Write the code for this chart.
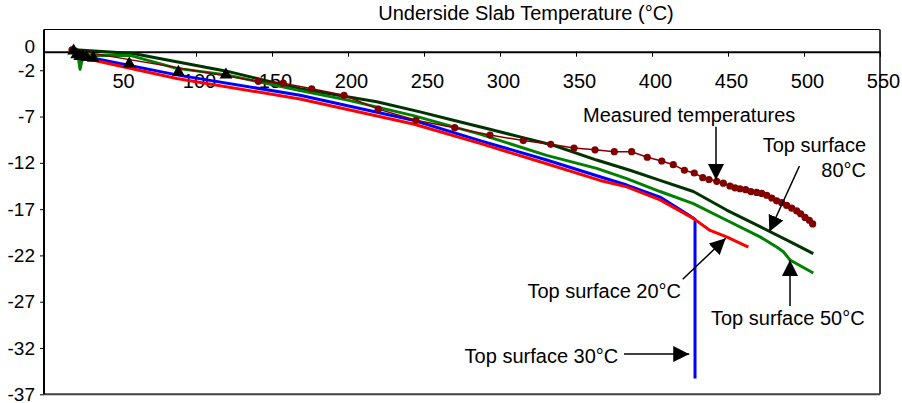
<!DOCTYPE html>
<html>
<head>
<meta charset="utf-8">
<script src="https://cdn.jsdelivr.net/npm/d3@7"></script>
<style>
  body { margin: 0; background: #fff; }
  svg text { font-family: "Liberation Sans", Arial, sans-serif; }
</style>
</head>
<body>
<svg id="slabPlot"></svg>
<script>
// x: underside slab temperature read position, y: temperature (°C)
const measured = [
  [18.4, 0.2], [141, -3.2], [157.4, -3.4], [176.1, -4.0], [197.4, -4.7],
  [219.9, -6.2], [244.7, -7.4], [270.2, -8.2], [293.4, -9.0], [315.3, -9.6],
  [333.4, -10.0], [348.7, -10.4], [362.5, -10.6], [375.2, -10.8], [386.6, -10.8],
  [396.9, -11.4], [406.4, -11.8], [414.0, -12.2], [421.3, -12.8], [427.8, -13.1],
  [433.4, -13.6], [437.5, -13.8], [442.6, -14.0], [446.9, -14.2], [451.3, -14.5],
  [454.6, -14.7], [457.9, -14.8], [461.6, -14.9], [465.1, -15.1], [468.9, -15.2],
  [472.2, -15.3], [475.5, -15.5], [478.8, -15.8], [482.0, -16.1], [485.3, -16.3],
  [488.6, -16.6], [491.9, -16.9], [495.2, -17.2], [497.8, -17.5], [500.7, -17.9],
  [503.5, -18.2], [505.7, -18.6],
];

const top80 = [
  [20.4, 0.2], [58.6, -0.2], [120.2, -2.1], [168.4, -4.0], [218.9, -5.4],
  [247.4, -6.5], [269.3, -7.4], [291.3, -8.3], [313.2, -9.2], [335.1, -10.1],
  [363.6, -11.7], [385.5, -12.8], [405.3, -13.9], [427.2, -15.1], [449.1, -17.1],
  [471.1, -18.9], [493.0, -20.7], [506.1, -21.8],
];

const top50 = [
  [20.4, 0.2], [22.4, -0.4], [23.7, -1.9], [25.7, -0.4], [56.6, -0.4],
  [87.3, -1.8], [120.2, -2.5], [168.4, -4.2], [199.1, -5.2], [243.0, -6.9],
  [286.8, -8.9], [330.7, -11.2], [363.6, -12.6], [383.4, -13.7], [405.3, -15.1],
  [427.2, -16.4], [449.1, -18.2], [471.1, -20.0], [482.0, -21.1], [486.4, -21.6],
  [490.8, -22.5], [506.1, -23.9],
];

const top30 = [
  [20.4, 0.1], [23.7, -0.4], [87.3, -2.5], [168.4, -4.7], [243.0, -7.4],
  [286.8, -9.6], [330.7, -11.7], [365.8, -13.5], [383.4, -14.4], [405.3, -15.7],
  [422.8, -17.5], [428.3, -18.1], [428.3, -35.3],
];

const top20 = [
  [20.4, -0.1], [23.7, -0.6], [87.3, -2.9], [168.4, -5.1], [243.0, -7.8],
  [286.8, -9.9], [330.7, -12.1], [365.8, -13.9], [383.4, -14.6], [405.3, -16.0],
  [427.2, -18.0], [438.2, -19.3], [449.1, -20.0], [463.4, -21.1],
];

// black triangle markers near the start
const triangles = [
  [19.5, 0.1], [21.5, -0.3], [23.5, -0.5], [25.5, -0.5], [28, -0.6],
  [32.4, -0.7], [56.1, -1.3], [88.4, -2.2], [119.7, -2.5],
];

const xTicks = [50, 100, 150, 200, 250, 300, 350, 400, 450, 500, 550];
const yTicks = [-37, -32, -27, -22, -17, -12, -7, -2];

const color = {
  measured: "#800000",
  top80: "#003300",
  top50: "#008000",
  top30: "#0000ff",
  top20: "#ff0000",
};

// annotations: text position / arrow from-to in data units
const labels = [
  { text: ["Measured temperatures"], x: 354.6, y: -7.56, anchor: "start" },
  { text: ["Top surface", "80°C"], x: 540.8, y: -10.8, anchor: "end" },
  { text: ["Top surface 20°C"], x: 419.1, y: -26.63, anchor: "end" },
  { text: ["Top surface 30°C"], x: 377.8, y: -33.65, anchor: "end" },
  { text: ["Top surface 50°C"], x: 438.8, y: -29.5, anchor: "start" },
];

const arrows = [
  { from: [442.1, -8.1], to: [442.1, -13.86] },
  { from: [497.0, -12.34], to: [477.2, -19.44] },
  { from: [420.2, -24.58], to: [448.5, -20.15] },
  { from: [381.6, -32.65], to: [424.5, -32.65] },
  { from: [490.8, -27.47], to: [490.8, -22.5] },
];

const size = { width: 902, height: 403 };
const margin = { top: 29.5, bottom: 8.7, left: 44, right: 22 };

const svg = d3
  .select("#slabPlot")
  .attr("width", size.width)
  .attr("height", size.height);

const x = d3
  .scaleLinear()
  .domain([0, 550])
  .range([margin.left, size.width - margin.right]);

const y = d3
  .scaleLinear()
  .domain([-37, 2.4])
  .range([size.height - margin.bottom, margin.top]);

// frame
svg
  .append("line")
  .attr("x1", x(0))
  .attr("x2", x(550))
  .attr("y1", margin.top)
  .attr("y2", margin.top)
  .attr("stroke", "#000")
  .attr("stroke-width", 1.2);

svg
  .append("line")
  .attr("x1", x(550))
  .attr("x2", x(550))
  .attr("y1", margin.top)
  .attr("y2", y(-37))
  .attr("stroke", "#404040")
  .attr("stroke-width", 2);

svg
  .append("line")
  .attr("x1", x(0))
  .attr("x2", x(550))
  .attr("y1", y(-37))
  .attr("y2", y(-37))
  .attr("stroke", "#404040")
  .attr("stroke-width", 2);

// y axis
const yAxis = svg
  .append("g")
  .attr("transform", `translate(${x(0)},0)`)
  .call(
    d3
      .axisLeft(y)
      .tickValues(yTicks)
      .tickFormat((d) => String(d))
      .tickSize(4)
      .tickPadding(5)
      .tickSizeOuter(0)
  );

yAxis.select(".domain").attr("stroke-width", 2).attr("d", `M0,${margin.top}V${y(-37)}`);
yAxis.selectAll(".tick line").attr("stroke-width", 1);
yAxis
  .selectAll("text")
  .style("font-size", "19px")
  .attr("fill", "#000");

yAxis
  .append("text")
  .attr("x", -9)
  .attr("y", y(0) - 5)
  .attr("dy", "0.32em")
  .attr("text-anchor", "end")
  .attr("fill", "#000")
  .style("font-size", "19px")
  .text("0");

// x axis at 0
const xAxis = svg
  .append("g")
  .attr("transform", `translate(0,${y(0)})`)
  .call(
    d3
      .axisBottom(x)
      .tickValues(xTicks)
      .tickFormat((d) => String(d))
      .tickSize(5)
      .tickPadding(17)
      .tickSizeOuter(0)
  );

xAxis.select(".domain").attr("stroke-width", 2);
xAxis
  .selectAll("text")
  .attr("dx", 3)
  .style("font-size", "20px")
  .attr("fill", "#000");

// title
svg
  .append("text")
  .attr("x", 526)
  .attr("y", 20)
  .attr("text-anchor", "middle")
  .style("font-size", "20px")
  .text("Underside Slab Temperature (°C)");

// series
const line = d3
  .line()
  .x((d) => x(d[0]))
  .y((d) => y(d[1]));

const series = [
  { key: "top80", data: top80, width: 3 },
  { key: "top50", data: top50, width: 3 },
  { key: "top30", data: top30, width: 3 },
  { key: "top20", data: top20, width: 3 },
];

series.forEach((s) => {
  svg
    .append("path")
    .datum(s.data)
    .attr("d", line)
    .attr("fill", "none")
    .attr("stroke", color[s.key])
    .attr("stroke-width", s.width)
    .attr("stroke-linejoin", "round");
});

svg
  .append("path")
  .datum(measured)
  .attr("d", line)
  .attr("fill", "none")
  .attr("stroke", color.measured)
  .attr("stroke-width", 1.5);

svg
  .append("g")
  .selectAll("circle")
  .data(measured)
  .join("circle")
  .attr("cx", (d) => x(d[0]))
  .attr("cy", (d) => y(d[1]))
  .attr("r", 3.6)
  .attr("fill", color.measured);

svg
  .append("g")
  .selectAll("path")
  .data(triangles)
  .join("path")
  .attr("d", d3.symbol(d3.symbolTriangle, 70))
  .attr("transform", (d) => `translate(${x(d[0])},${y(d[1])})`)
  .attr("fill", "#000");

// annotations
svg
  .append("defs")
  .append("marker")
  .attr("id", "arrowHead")
  .attr("viewBox", "0 0 16 16")
  .attr("refX", 16)
  .attr("refY", 8)
  .attr("markerWidth", 16)
  .attr("markerHeight", 16)
  .attr("markerUnits", "userSpaceOnUse")
  .attr("orient", "auto")
  .append("path")
  .attr("d", "M0,0L16,8L0,16Z")
  .attr("fill", "#000");

arrows.forEach((a) => {
  svg
    .append("line")
    .attr("x1", x(a.from[0]))
    .attr("y1", y(a.from[1]))
    .attr("x2", x(a.to[0]))
    .attr("y2", y(a.to[1]))
    .attr("stroke", "#000")
    .attr("stroke-width", 1.5)
    .attr("marker-end", "url(#arrowHead)");
});

labels.forEach((l) => {
  const t = svg
    .append("text")
    .attr("x", x(l.x))
    .attr("y", y(l.y))
    .attr("text-anchor", l.anchor)
    .style("font-size", "20px")
    .attr("fill", "#000");
  l.text.forEach((s, i) => {
    t.append("tspan")
      .attr("x", x(l.x))
      .attr("dy", i === 0 ? 0 : 25)
      .text(s);
  });
});
</script>
</body>
</html>
